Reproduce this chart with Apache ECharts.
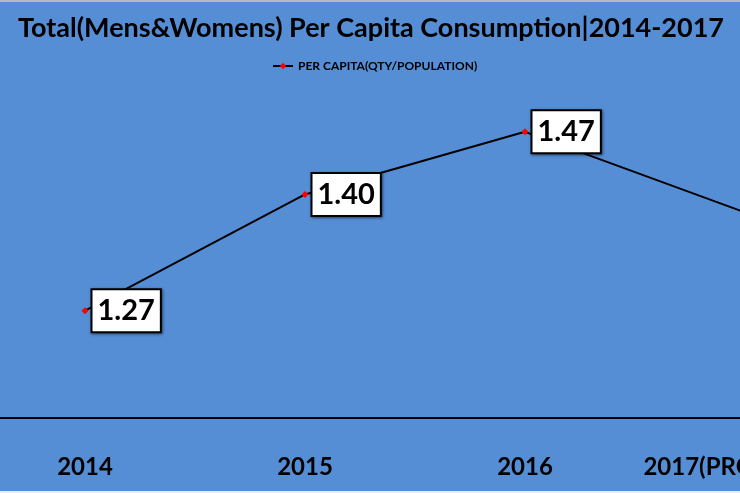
<!DOCTYPE html>
<html>
<head>
<meta charset="utf-8">
<script src="https://cdn.jsdelivr.net/npm/echarts@6/dist/echarts.min.js"></script>
<style>
html,body{margin:0;padding:0;background:#558ed5;overflow:hidden;width:740px;height:493px;position:relative;}
#chart{position:absolute;left:-25px;top:0;width:880px;height:493px;}
</style>
</head>
<body>
<div id="chart"></div>
<script>
var categories = ['2014', '2015', '2016', '2017(PROJECTED)'];
var perCapita = [1.27, 1.40, 1.47, 1.38];
var seriesName = 'PER CAPITA(QTY/POPULATION)';
var titleText = 'Total(Mens&Womens) Per Capita Consumption|2014-2017';

var chart = echarts.init(document.getElementById('chart'));
chart.setOption({
  backgroundColor: '#558ed5',
  animation: false,
  title: {
    text: titleText,
    left: 391,
    textAlign: 'center',
    top: 10,
    textStyle: { fontFamily: 'Lato', fontWeight: 'bold', fontSize: 27, color: '#000' }
  },
  legend: {
    top: 55,
    left: 292,
    itemWidth: 20,
    itemHeight: 8,
    itemGap: 2,
    data: [seriesName],
    textStyle: { fontFamily: 'Lato', fontWeight: 'bold', fontSize: 12, color: '#000' }
  },
  graphic: [
    { type: 'rect', shape: { x: 0, y: 0, width: 880, height: 2 }, style: { fill: '#b9b9b9' }, silent: true },
    { type: 'rect', shape: { x: 0, y: 491, width: 880, height: 2 }, style: { fill: '#eeece6' }, silent: true }
  ],
  grid: { left: 0, right: 0, top: 105, bottom: 75, containLabel: false },
  xAxis: {
    type: 'category',
    data: categories,
    boundaryGap: true,
    axisLine: { show: true, lineStyle: { color: '#000', width: 2 } },
    axisTick: { show: false },
    axisLabel: { interval: 0, margin: 37, fontFamily: 'Lato', fontWeight: 'bold', fontSize: 24, color: '#000' }
  },
  yAxis: {
    type: 'value',
    min: 1.15,
    max: 1.5,
    show: false,
    splitLine: { show: false }
  },
  series: [{
    name: seriesName,
    type: 'line',
    data: perCapita,
    symbol: 'diamond',
    symbolSize: 7,
    itemStyle: { color: '#ff0000' },
    lineStyle: { color: '#000', width: 2 },
    label: {
      show: true,
      position: 'right',
      distance: 4,
      formatter: function (p) { return p.value.toFixed(2); },
      fontFamily: 'Lato',
      fontWeight: 'bold',
      fontSize: 29,
      lineHeight: 34,
      color: '#000',
      backgroundColor: '#fff',
      borderColor: '#000',
      borderWidth: 2,
      padding: [4, 5, 3, 5],
      shadowColor: 'rgba(0,0,0,0.5)',
      shadowBlur: 3,
      shadowOffsetX: 1,
      shadowOffsetY: 1
    }
  }]
});
</script>
</body>
</html>
